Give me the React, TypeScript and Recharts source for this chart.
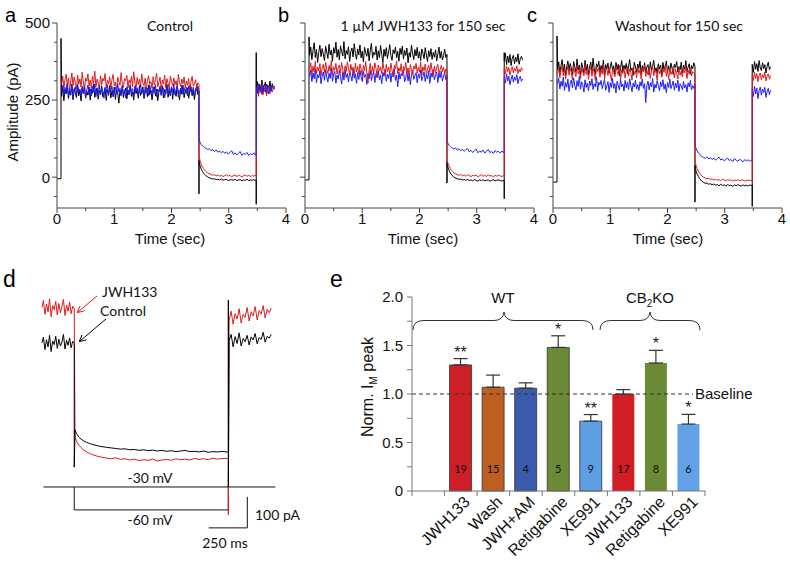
import React from "react";
import {
  LineChart,
  Line,
  XAxis,
  YAxis,
  BarChart,
  Bar,
  Cell,
  ErrorBar,
  LabelList,
  ReferenceLine,
} from "recharts";

const ARIAL = '"Liberation Sans", Arial, sans-serif';
const CALIBRI = 'Lato, "Open Sans", sans-serif';
const AXIS = "#444";
const BLACK = "#000000";
const RED = "#e0191c";
const BLUE = "#1c1cff";

// ---------- panels a-c : sample times (sec) ----------
const highTimes = [
  0.08, 0.1, 0.12, 0.14, 0.16, 0.18, 0.2, 0.22, 0.24, 0.26,
  0.28, 0.3, 0.32, 0.34, 0.36, 0.38, 0.4, 0.42, 0.44, 0.46,
  0.48, 0.5, 0.52, 0.54, 0.56, 0.58, 0.6, 0.62, 0.64, 0.66,
  0.68, 0.7, 0.72, 0.74, 0.76, 0.78, 0.8, 0.82, 0.84, 0.86,
  0.88, 0.9, 0.92, 0.94, 0.96, 0.98, 1, 1.02, 1.04, 1.06,
  1.08, 1.1, 1.12, 1.14, 1.16, 1.18, 1.2, 1.22, 1.24, 1.26,
  1.28, 1.3, 1.32, 1.34, 1.36, 1.38, 1.4, 1.42, 1.44, 1.46,
  1.48, 1.5, 1.52, 1.54, 1.56, 1.58, 1.6, 1.62, 1.64, 1.66,
  1.68, 1.7, 1.72, 1.74, 1.76, 1.78, 1.8, 1.82, 1.84, 1.86,
  1.88, 1.9, 1.92, 1.94, 1.96, 1.98, 2, 2.02, 2.04, 2.06,
  2.08, 2.1, 2.12, 2.14, 2.16, 2.18, 2.2, 2.22, 2.24, 2.26,
  2.28, 2.3, 2.32, 2.34, 2.36, 2.38, 2.4, 2.42, 2.44, 2.46,
  2.48,
];
const lowTimes = [
  2.48, 2.49, 2.5, 2.52, 2.54, 2.56, 2.58, 2.6, 2.63, 2.66,
  2.69, 2.72, 2.75, 2.78, 2.81, 2.84, 2.87, 2.9, 2.93, 2.96,
  2.99, 3.02, 3.05, 3.08, 3.11, 3.14, 3.17, 3.2, 3.23, 3.26,
  3.29, 3.32, 3.35, 3.38, 3.41, 3.44, 3.46, 3.48,
];
const endTimes = [3.48, 3.5, 3.52, 3.54, 3.56, 3.58, 3.6, 3.62, 3.64, 3.66, 3.68, 3.7, 3.72, 3.74, 3.76, 3.78, 3.8];
// hold end / step on / step off
const spikeTimes = [0.07, 2.48, 3.48];

// ---------- panel a : Control (pA) ----------
const aBlackHigh = [
  262, 291, 248, 284, 270, 299, 255, 280, 266, 302,
  251, 287, 273, 258, 295, 264, 282, 247, 289, 271,
  298, 256, 279, 266, 293, 250, 285, 272, 301, 259,
  277, 290, 253, 281, 268, 296, 261, 275, 288, 249,
  283, 270, 297, 257, 279, 264, 292, 252, 286, 274,
  240, 281, 266, 295, 258, 277, 289, 254, 283, 269,
  300, 262, 276, 250, 291, 271, 284, 256, 297, 265,
  280, 293, 255, 274, 287, 261, 299, 268, 282, 251,
  278, 294, 263, 285, 248, 276, 290, 267, 296, 257,
  284, 270, 301, 259, 281, 266, 293, 253, 287, 273,
  262, 295, 276, 250, 288, 269, 298, 258, 282, 271,
  290, 256, 279, 294, 264, 285, 252, 277, 299, 268,
  280,
];
const aRedHigh = [
  300, 328, 289, 317, 334, 295, 322, 281, 312, 338,
  297, 325, 306, 286, 331, 301, 319, 292, 340, 309,
  284, 322, 311, 335, 296, 315, 288, 327, 303, 344,
  293, 318, 307, 285, 329, 299, 321, 312, 336, 290,
  314, 302, 326, 287, 317, 333, 296, 308, 282, 324,
  311, 298, 339, 305, 291, 320, 313, 330, 289, 316,
  304, 327, 294, 342, 309, 286, 323, 300, 318, 292,
  335, 306, 297, 321, 283, 314, 329, 301, 310, 288,
  326, 299, 317, 337, 293, 308, 324, 285, 315, 302,
  331, 290, 319, 305, 284, 328, 311, 296, 322, 300,
  313, 287, 334, 307, 294, 318, 303, 325, 289, 312,
  298, 320, 283, 309, 327, 295, 304, 316, 291, 306,
  301,
];
const aBlueHigh = [
  280, 298, 266, 291, 275, 304, 262, 288, 271, 296,
  259, 284, 293, 268, 301, 277, 286, 263, 295, 273,
  290, 258, 283, 299, 270, 287, 264, 294, 276, 302,
  261, 285, 272, 297, 267, 289, 279, 256, 292, 274,
  300, 265, 286, 278, 295, 260, 282, 291, 269, 303,
  276, 288, 263, 297, 271, 284, 257, 293, 280, 267,
  299, 274, 287, 262, 296, 278, 290, 266, 285, 301,
  270, 283, 259, 294, 276, 289, 264, 298, 281, 268,
  292, 273, 300, 261, 286, 277, 295, 265, 284, 290,
  258, 279, 297, 271, 288, 263, 293, 276, 302, 267,
  285, 294, 260, 281, 272, 298, 269, 289, 278, 291,
  264, 296, 275, 283, 270, 292, 262, 287, 279, 294,
  282,
];
const aBlackLow = [
  55, 44, 36, 26, 19, 13, 9, 5, 1, -2,
  -4, -6, -5, -8, -7, -9, -6, -10, -8, -7,
  -11, -9, -8, -10, -7, -11, -9, -8, -12, -9,
  -10, -7, -11, -9, -10, -8, -11, -9,
];
const aRedLow = [
  75, 62, 52, 42, 34, 28, 23, 19, 14, 11,
  9, 6, 8, 4, 7, 3, 6, 2, 5, 8,
  3, 6, 1, 5, 7, 2, 6, 4, 1, 5,
  7, 3, 6, 2, 5, 3, 6, 4,
];
const aBlueLow = [
  125, 118, 112, 106, 102, 99, 96, 93, 90, 92,
  86, 89, 83, 88, 81, 85, 79, 84, 77, 82,
  75, 80, 86, 74, 79, 72, 78, 83, 71, 77,
  74, 80, 70, 76, 73, 79, 72, 76,
];
const aBlackEnd = [288, 310, 272, 301, 283, 315, 276, 296, 308, 270, 299, 287, 312, 279, 303, 290, 296];
const aRedEnd = [278, 296, 262, 289, 274, 301, 268, 285, 293, 264, 282, 297, 271, 288, 276, 292, 284];
const aBlueEnd = [290, 272, 303, 281, 295, 268, 299, 284, 276, 302, 287, 270, 294, 280, 298, 286, 291];
// hold level, onset peak, step-on spike, step-off dip, step-off peak
const aSpikes = [-5, 450, -54, -88, 404];

// ---------- panel b : 1 uM JWH133 ----------
const bBlackHigh = [
  395, 422, 381, 410, 436, 388, 415, 372, 404, 428,
  391, 417, 399, 378, 425, 406, 385, 431, 397, 412,
  376, 420, 402, 438, 389, 414, 380, 426, 408, 393,
  440, 384, 411, 398, 423, 375, 407, 419, 390, 433,
  401, 382, 416, 396, 429, 387, 409, 374, 421, 403,
  392, 418, 377, 412, 434, 386, 405, 397, 424, 380,
  410, 388, 427, 399, 373, 415, 392, 420, 385, 406,
  430, 394, 379, 413, 401, 422, 387, 408, 376, 418,
  398, 425, 383, 411, 395, 419, 371, 404, 389, 428,
  400, 381, 414, 393, 421, 386, 407, 378, 416, 402,
  384, 420, 396, 375, 410, 391, 417, 382, 405, 389,
  413, 377, 399, 422, 386, 408, 380, 394, 415, 388,
  398,
];
const bRedHigh = [
  348, 371, 332, 360, 341, 376, 335, 357, 345, 368,
  329, 354, 366, 339, 373, 350, 336, 362, 344, 378,
  331, 358, 347, 369, 334, 355, 364, 338, 372, 349,
  327, 361, 343, 374, 352, 333, 366, 346, 357, 330,
  370, 341, 359, 336, 367, 351, 328, 363, 345, 375,
  337, 305, 348, 369, 332, 360, 340, 371, 353, 326,
  364, 344, 358, 335, 373, 349, 331, 366, 342, 357,
  338, 370, 347, 329, 362, 351, 377, 336, 355, 343,
  368, 330, 359, 346, 372, 339, 354, 325, 365, 348,
  334, 361, 350, 369, 337, 356, 342, 374, 331, 358,
  345, 367, 333, 352, 363, 340, 371, 347, 328, 360,
  339, 355, 366, 334, 349, 362, 343, 357, 336, 351,
  346,
];
const bBlueHigh = [
  326, 347, 310, 338, 319, 351, 306, 333, 322, 345,
  303, 329, 341, 314, 349, 325, 308, 337, 320, 353,
  311, 334, 343, 305, 331, 318, 346, 327, 302, 340,
  315, 348, 323, 336, 309, 344, 329, 312, 350, 321,
  335, 304, 339, 317, 346, 326, 310, 343, 324, 333,
  301, 337, 319, 348, 313, 330, 342, 307, 336, 322,
  345, 316, 332, 303, 340, 327, 349, 311, 334, 320,
  344, 308, 338, 325, 351, 314, 331, 293, 341, 318,
  336, 328, 347, 309, 323, 343, 312, 337, 300, 332,
  346, 317, 329, 339, 306, 335, 321, 348, 313, 326,
  342, 310, 333, 319, 345, 304, 338, 324, 350, 315,
  330, 341, 307, 336, 322, 344, 312, 328, 339, 316,
  331,
];
const bBlackLow = [
  48, 38, 30, 21, 14, 8, 4, 0, -3, -5,
  -7, -6, -9, -8, -10, -7, -11, -9, -12, -8,
  -10, -13, -9, -11, -8, -12, -10, -9, -13, -11,
  -8, -12, -10, -9, -11, -13, -10, -11,
];
const bRedLow = [
  60, 50, 43, 35, 28, 22, 18, 14, 11, 8,
  6, 9, 4, 7, 3, 8, 5, 2, 6, 4,
  7, 1, 5, 8, 3, 6, 2, 7, 4, 5,
  1, 6, 3, 7, 4, 2, 5, 3,
];
const bBlueLow = [
  120, 114, 108, 103, 99, 96, 94, 91, 95, 88,
  92, 86, 90, 84, 89, 93, 82, 87, 80, 86,
  91, 79, 85, 81, 88, 78, 84, 90, 80, 83,
  77, 86, 81, 84, 78, 85, 80, 82,
];
const bBlackEnd = [378, 402, 365, 393, 371, 398, 362, 386, 395, 368, 389, 374, 400, 366, 384, 392, 380];
const bRedEnd = [352, 335, 360, 342, 356, 331, 348, 358, 338, 353, 344, 361, 336, 350, 341, 355, 346];
const bBlueEnd = [322, 305, 335, 312, 328, 300, 318, 331, 308, 325, 314, 333, 303, 320, 327, 311, 319];
const bSpikes = [-9, 455, -19, -70, 404];

// ---------- panel c : washout ----------
const cBlackHigh = [
  350, 374, 336, 362, 381, 341, 367, 330, 358, 377,
  345, 369, 353, 333, 375, 359, 340, 383, 348, 364,
  329, 371, 355, 338, 379, 346, 366, 332, 360, 373,
  343, 386, 351, 334, 368, 357, 376, 339, 362, 347,
  380, 331, 365, 352, 370, 337, 358, 374, 344, 361,
  333, 372, 349, 366, 328, 356, 378, 342, 363, 350,
  369, 335, 360, 381, 346, 354, 330, 373, 358, 340,
  367, 352, 376, 334, 362, 345, 371, 338, 357, 365,
  331, 374, 348, 360, 379, 343, 355, 336, 368, 351,
  364, 329, 372, 347, 358, 377, 339, 361, 344, 370,
  353, 333, 366, 356, 375, 341, 359, 348, 373, 337,
  363, 350, 378, 342, 357, 368, 334, 362, 352, 371,
  360,
];
const cRedHigh = [
  336, 356, 322, 347, 362, 328, 351, 318, 343, 360,
  331, 354, 339, 315, 358, 344, 326, 363, 335, 350,
  320, 357, 341, 329, 365, 333, 349, 317, 346, 359,
  327, 352, 338, 314, 361, 342, 355, 324, 348, 334,
  366, 319, 345, 353, 330, 357, 337, 313, 350, 340,
  325, 359, 343, 332, 362, 316, 348, 336, 354, 321,
  346, 360, 328, 351, 339, 315, 356, 334, 345, 323,
  358, 337, 349, 318, 353, 341, 364, 326, 347, 332,
  355, 320, 344, 361, 329, 350, 338, 314, 357, 335,
  346, 324, 352, 340, 363, 327, 348, 317, 354, 333,
  343, 359, 322, 350, 336, 318, 356, 331, 345, 325,
  352, 338, 361, 320, 347, 334, 355, 328, 342, 339,
  336,
];
const cBlueHigh = [
  302, 320, 286, 311, 295, 325, 281, 307, 292, 318,
  278, 304, 315, 289, 322, 298, 283, 313, 294, 327,
  285, 309, 300, 276, 316, 291, 305, 280, 312, 297,
  320, 284, 303, 293, 324, 279, 308, 299, 314, 287,
  301, 318, 282, 296, 310, 275, 306, 291, 321, 288,
  304, 273, 311, 297, 283, 317, 293, 302, 279, 314,
  290, 308, 284, 319, 296, 277, 305, 292, 315, 286,
  300, 281, 309, 295, 318, 288, 303, 242, 298, 311,
  283, 306, 293, 320, 276, 301, 289, 313, 297, 280,
  309, 294, 316, 285, 302, 274, 307, 291, 318, 287,
  299, 312, 282, 305, 290, 315, 278, 303, 296, 284,
  310, 289, 300, 276, 306, 293, 314, 283, 297, 288,
  301,
];
const cBlackLow = [
  40, 28, 18, 9, 2, -4, -9, -13, -17, -20,
  -19, -23, -21, -25, -22, -26, -24, -28, -23, -27,
  -25, -29, -24, -27, -26, -30, -25, -28, -24, -27,
  -29, -25, -28, -26, -29, -25, -27, -26,
];
const cRedLow = [
  58, 45, 36, 27, 19, 13, 8, 4, 0, -3,
  -5, -4, -7, -6, -9, -7, -10, -8, -11, -7,
  -9, -12, -8, -10, -9, -13, -9, -11, -8, -12,
  -10, -9, -13, -10, -11, -9, -12, -10,
];
const cBlueLow = [
  110, 100, 92, 85, 79, 74, 70, 67, 64, 61,
  66, 59, 63, 57, 62, 55, 60, 65, 56, 59,
  53, 58, 62, 54, 57, 51, 60, 55, 52, 58,
  54, 50, 57, 53, 56, 51, 55, 54,
];
const cBlackEnd = [362, 340, 375, 350, 368, 343, 378, 355, 346, 371, 352, 365, 338, 360, 373, 349, 358];
const cRedEnd = [332, 314, 340, 320, 336, 310, 329, 338, 316, 333, 322, 341, 312, 327, 335, 318, 330];
const cBlueEnd = [284, 262, 295, 270, 289, 255, 281, 292, 266, 286, 274, 291, 259, 279, 288, 268, 282];
const cSpikes = [-16, 458, -81, -95, 366];

const timeTicks = [0, 0.5, 1, 1.5, 2, 2.5, 3, 3.5, 4];
const ampTicks = [-62.5, 0, 62.5, 125, 187.5, 250, 312.5, 375, 437.5, 500];

// ---------- panel d : example traces (sec, pA) ----------
const dLeftTimes = [
  -0.21, -0.2, -0.19, -0.18, -0.17, -0.16, -0.15, -0.14, -0.13, -0.12, -0.11,
  -0.1, -0.09, -0.08, -0.07, -0.06, -0.05, -0.04, -0.03, -0.02, -0.01, 0,
];
const dStepTimes = [
  0.005, 0.015, 0.03, 0.045, 0.06, 0.08, 0.1, 0.12, 0.15, 0.18,
  0.21, 0.24, 0.27, 0.3, 0.33, 0.36, 0.39, 0.42, 0.45, 0.48,
  0.51, 0.54, 0.57, 0.6, 0.63, 0.66, 0.69, 0.72, 0.75, 0.78,
  0.81, 0.84, 0.87, 0.9, 0.93, 0.96, 1,
];
const dRightTimes = [
  1.005, 1.018, 1.031, 1.044, 1.057, 1.07, 1.083, 1.096, 1.109, 1.122, 1.135,
  1.148, 1.161, 1.174, 1.187, 1.2, 1.213, 1.226, 1.239, 1.252, 1.265, 1.278,
];
const dRedLeft = [492, 515, 470, 503, 478, 520, 462, 498, 485, 512, 468, 505, 475, 495, 518, 466, 500, 480, 510, 472, 496, 488];
const dBlackLeft = [378, 396, 356, 388, 365, 402, 350, 384, 372, 399, 360, 390, 368, 380, 405, 358, 386, 370, 394, 362, 383, 376];
const dRedStep = [
  74, 60, 48, 40, 33, 26, 21, 17, 12, 9,
  6, 4, 7, 2, 4, 0, 3, -2, 1, -1,
  3, -3, 0, 2, -1, 4, 1, 3, 0, 5,
  2, 4, 1, 6, 3, 5, 5,
];
const dBlackStep = [
  97, 85, 74, 67, 62, 57, 53, 50, 46, 43,
  41, 39, 37, 35, 36, 33, 34, 31, 33, 30,
  32, 29, 31, 28, 30, 27, 29, 31, 27, 28,
  26, 29, 25, 27, 26, 28, 25,
];
const dRedRight = [452, 480, 438, 472, 455, 488, 442, 470, 460, 492, 448, 478, 465, 495, 452, 482, 470, 498, 458, 486, 475, 490];
const dBlackRight = [385, 405, 365, 398, 376, 410, 368, 392, 382, 402, 371, 397, 387, 408, 375, 395, 389, 412, 380, 399, 393, 405];
// black: step-on dip, step-off peak, step-off dip ; red: step-off dip
const dBlackSpikes = [-23, 516, -87];
const dRedSpikes = [-177];
// voltage protocol drawing (-30 mV holding, -60 mV step) and scale bar
const protocolTimes = [-0.2, 0, 1, 1.305];
const protocolLevels = [-87, -161];
const scaleBarTimes = [0.873, 1.123];
const scaleBarLevels = [-219, -119];

// ---------- panel e : normalized I_M peak ----------
const conditions = ["", "JWH133", "Wash", "JWH+AM", "Retigabine", "XE991", "JWH133", "Retigabine", "XE991"];
const normPeak = [0, 1.3, 1.07, 1.06, 1.48, 0.72, 1.0, 1.32, 0.69];
const sem = [0, 0.065, 0.125, 0.055, 0.12, 0.068, 0.045, 0.13, 0.1];
const cellCounts = ["", "19", "15", "4", "5", "9", "17", "8", "6"];
const significance = ["", "**", "", "", "*", "**", "", "*", "*"];
const barColors = ["#a89a3c", "#cf1f26", "#bd5f21", "#3b5aab", "#6b8a35", "#5e9ee4", "#d11d24", "#6b8a35", "#62a1e8"];
const genotype = ["WT", "WT", "WT", "WT", "WT", "WT", "KO", "KO", "KO"];
const normTicks = [0, 0.25, 0.5, 0.75, 1, 1.25, 1.5, 1.75, 2];

const E_PLOT_LEFT = 72;
const E_BAND = 293 / conditions.length;

type Pt = { t: number; v: number };

function zip(times: number[], vals: number[]): Pt[] {
  return vals.map((v, i) => ({ t: times[i], v }));
}

function buildTrace(high: number[], low: number[], end: number[], spikes?: number[]): Pt[] {
  const pts: Pt[] = [];
  if (spikes) {
    pts.push({ t: 0, v: spikes[0] }, { t: spikeTimes[0], v: spikes[0] }, { t: spikeTimes[0], v: spikes[1] });
  }
  pts.push(...zip(highTimes, high));
  if (spikes) pts.push({ t: spikeTimes[1], v: spikes[2] });
  pts.push(...zip(lowTimes, low));
  if (spikes) pts.push({ t: spikeTimes[2], v: spikes[3] }, { t: spikeTimes[2], v: spikes[4] });
  pts.push(...zip(endTimes, end));
  return pts;
}

const TimeTick = (p: any) => {
  const { x, y, payload } = p;
  const major = Number.isInteger(payload.value);
  return (
    <g>
      <line x1={x} x2={x} y1={y} y2={y + (major ? 5 : 3)} stroke={AXIS} />
      {major && (
        <text x={x} y={y + 16} textAnchor="middle" fontSize={15} fontFamily={ARIAL} fill="#111">
          {payload.value}
        </text>
      )}
    </g>
  );
};

const makeAmpTick = (showLabel: boolean) => (p: any) => {
  const { x, y, payload } = p;
  const major = payload.value % 250 === 0;
  return (
    <g>
      <line x1={x - (major ? 5 : 3)} x2={x} y1={y} y2={y} stroke={AXIS} />
      {showLabel && major && (
        <text x={x - 7} y={y} dy="0.36em" textAnchor="end" fontSize={15} fontFamily={ARIAL} fill="#111">
          {payload.value}
        </text>
      )}
    </g>
  );
};

type Trace = { color: string; points: Pt[] };

function TracePanel({ left, traces, showYLabels }: { left: number; traces: Trace[]; showYLabels: boolean }) {
  return (
    <div style={{ position: "absolute", left, top: 0 }}>
      <LineChart width={290} height={250} margin={{ top: 23, right: 4, left: 0, bottom: 2 }}>
        <XAxis
          dataKey="t"
          type="number"
          domain={[0, 4]}
          ticks={timeTicks}
          interval={0}
          tickSize={0}
          tickMargin={0}
          tickLine={false}
          tick={TimeTick}
          height={40}
          axisLine={{ stroke: AXIS }}
        />
        <YAxis
          type="number"
          domain={[-100, 500]}
          ticks={ampTicks}
          interval={0}
          tickSize={0}
          tickMargin={0}
          tickLine={false}
          tick={makeAmpTick(showYLabels)}
          width={57}
          axisLine={{ stroke: AXIS }}
        />
        {traces.map((tr, i) => (
          <Line
            key={i}
            data={tr.points}
            dataKey="v"
            stroke={tr.color}
            strokeWidth={1}
            dot={false}
            isAnimationActive={false}
          />
        ))}
      </LineChart>
    </div>
  );
}

const NormTick = (p: any) => {
  const { x, y, payload } = p;
  const v = payload.value as number;
  const major = v % 0.5 === 0;
  return (
    <g>
      <line x1={x - 5} x2={x} y1={y} y2={y} stroke="#777" />
      {major && (
        <text x={x - 9} y={y} dy="0.36em" textAnchor="end" fontSize={15} fontFamily={ARIAL} fill="#111">
          {v === 0 ? "0" : v.toFixed(1)}
        </text>
      )}
    </g>
  );
};

const CondTick = (p: any) => {
  const { x, y, payload, index } = p;
  return (
    <g>
      <line x1={x - E_BAND / 2} x2={x - E_BAND / 2} y1={y} y2={y + 5} stroke="#777" />
      {index === conditions.length - 1 && (
        <line x1={x + E_BAND / 2} x2={x + E_BAND / 2} y1={y} y2={y + 5} stroke="#777" />
      )}
      {payload.value && (
        <text
          transform={`translate(${x + 10},${y + 12}) rotate(-45)`}
          textAnchor="end"
          fontSize={16}
          fontFamily={ARIAL}
          fill="#111"
        >
          {payload.value}
        </text>
      )}
    </g>
  );
};

const renderCount = (p: any) => {
  const { x, y, width, height, value } = p;
  if (!value) return null;
  return (
    <text x={x + width / 2} y={y + height - 18} textAnchor="middle" fontSize={11} fontFamily={CALIBRI} fill="#111">
      {value}
    </text>
  );
};

// which category a bar belongs to, from its centre position
const barIndex = (x: number, width: number) => Math.floor((x + width / 2 - E_PLOT_LEFT) / E_BAND);

const renderStar = (p: any) => {
  const { x, y, width, height, value } = p;
  if (!value) return null;
  const i = barIndex(Number(x), Number(width));
  const top = Number(y) - sem[i] * (Number(height) / normPeak[i]);
  return (
    <text x={Number(x) + Number(width) / 2} y={top - 1} textAnchor="middle" fontSize={16} fontFamily={ARIAL} fill="#222">
      {value}
    </text>
  );
};

export default function App() {
  const panelA: Trace[] = [
    { color: BLACK, points: buildTrace(aBlackHigh, aBlackLow, aBlackEnd, aSpikes) },
    { color: RED, points: buildTrace(aRedHigh, aRedLow, aRedEnd) },
    { color: BLUE, points: buildTrace(aBlueHigh, aBlueLow, aBlueEnd) },
  ];
  const panelB: Trace[] = [
    { color: BLACK, points: buildTrace(bBlackHigh, bBlackLow, bBlackEnd, bSpikes) },
    { color: BLUE, points: buildTrace(bBlueHigh, bBlueLow, bBlueEnd) },
    { color: RED, points: buildTrace(bRedHigh, bRedLow, bRedEnd) },
  ];
  const panelC: Trace[] = [
    { color: BLACK, points: buildTrace(cBlackHigh, cBlackLow, cBlackEnd, cSpikes) },
    { color: BLUE, points: buildTrace(cBlueHigh, cBlueLow, cBlueEnd) },
    { color: RED, points: buildTrace(cRedHigh, cRedLow, cRedEnd) },
  ];

  const dRed: Pt[] = [
    ...zip(dLeftTimes, dRedLeft),
    ...zip(dStepTimes, dRedStep),
    { t: 1, v: dRedSpikes[0] },
    ...zip(dRightTimes, dRedRight),
  ];
  const dBlack: Pt[] = [
    ...zip(dLeftTimes, dBlackLeft),
    { t: 0, v: dBlackSpikes[0] },
    ...zip(dStepTimes, dBlackStep),
    { t: 1, v: dBlackSpikes[1] },
    { t: 1, v: dBlackSpikes[2] },
    ...zip(dRightTimes, dBlackRight),
  ];
  const holdingLine: Pt[] = [
    { t: protocolTimes[0], v: protocolLevels[0] },
    { t: protocolTimes[3], v: protocolLevels[0] },
  ];
  const stepLine: Pt[] = [
    { t: protocolTimes[1], v: protocolLevels[0] },
    { t: protocolTimes[1], v: protocolLevels[1] },
    { t: protocolTimes[2], v: protocolLevels[1] },
    { t: protocolTimes[2], v: protocolLevels[0] },
  ];
  const scaleBar: Pt[] = [
    { t: scaleBarTimes[0], v: scaleBarLevels[0] },
    { t: scaleBarTimes[1], v: scaleBarLevels[0] },
    { t: scaleBarTimes[1], v: scaleBarLevels[1] },
  ];

  const barData = conditions.map((name, i) => ({
    name,
    value: normPeak[i],
    err: [0, sem[i]],
    n: cellCounts[i],
    star: significance[i],
  }));

  return (
    <div
      style={{
        position: "absolute",
        left: 0,
        top: 0,
        width: 790,
        height: 568,
        background: "#fff",
        overflow: "hidden",
      }}
    >
      <TracePanel left={0} traces={panelA} showYLabels={true} />
      <TracePanel left={248} traces={panelB} showYLabels={false} />
      <TracePanel left={496} traces={panelC} showYLabels={false} />

      {/* panel d */}
      <div style={{ position: "absolute", left: 28, top: 274 }}>
        <LineChart width={262} height={279} margin={{ top: 0, right: 0, left: 0, bottom: 0 }}>
          <XAxis dataKey="t" type="number" domain={[-0.3, 1.4]} hide allowDataOverflow />
          <YAxis type="number" domain={[-300, 600]} hide allowDataOverflow />
          <Line data={holdingLine} dataKey="v" stroke="#111" strokeWidth={1} dot={false} isAnimationActive={false} />
          <Line data={stepLine} dataKey="v" stroke="#111" strokeWidth={1} dot={false} isAnimationActive={false} />
          <Line data={scaleBar} dataKey="v" stroke="#111" strokeWidth={1} dot={false} isAnimationActive={false} />
          <Line data={dRed} dataKey="v" stroke={RED} strokeWidth={1} dot={false} isAnimationActive={false} />
          <Line data={dBlack} dataKey="v" stroke={BLACK} strokeWidth={1} dot={false} isAnimationActive={false} />
        </LineChart>
      </div>

      {/* panel e */}
      <div style={{ position: "absolute", left: 340, top: 280 }}>
        <BarChart width={420} height={288} data={barData} margin={{ top: 17, right: 55, left: 0, bottom: 1 }}>
          <XAxis
            dataKey="name"
            interval={0}
            tickSize={0}
            tickMargin={0}
            tickLine={false}
            tick={CondTick}
            height={76}
            axisLine={{ stroke: "#777" }}
          />
          <YAxis
            type="number"
            domain={[0, 2]}
            ticks={normTicks}
            interval={0}
            tickSize={0}
            tickMargin={0}
            tickLine={false}
            tick={NormTick}
            width={E_PLOT_LEFT}
            axisLine={{ stroke: "#777" }}
          />
          <ReferenceLine
            y={1}
            shape={(p: any) => (
              <line x1={p.x1} y1={p.y1} x2={p.x2 - 12} y2={p.y2} stroke="#333" strokeWidth={1.2} strokeDasharray="4 3" />
            )}
            label={{ value: "Baseline", position: "right", offset: -10, fill: "#111", fontSize: 15, fontFamily: ARIAL }}
          />
          <Bar dataKey="value" barSize={22} isAnimationActive={false}>
            {barData.map((_, i) => (
              <Cell
                key={i}
                fill={barColors[i]}
                stroke={genotype[i] === "WT" ? "#333" : "none"}
                strokeWidth={0.8}
              />
            ))}
            <ErrorBar dataKey="err" direction="y" width={7} stroke="#333" strokeWidth={1.2} />
            <LabelList dataKey="n" content={renderCount} />
            <LabelList dataKey="star" content={renderStar} />
          </Bar>
        </BarChart>
      </div>

      {/* labels and annotations */}
      <svg width={790} height={568} style={{ position: "absolute", left: 0, top: 0, pointerEvents: "none" }}>
        <defs>
          <marker id="arrRed" markerWidth="7" markerHeight="7" refX="6" refY="3.5" orient="auto" markerUnits="userSpaceOnUse">
            <path d="M0,0 L7,3.5 L0,7" fill="none" stroke={RED} strokeWidth={1} />
          </marker>
          <marker id="arrBlack" markerWidth="7" markerHeight="7" refX="6" refY="3.5" orient="auto" markerUnits="userSpaceOnUse">
            <path d="M0,0 L7,3.5 L0,7" fill="none" stroke="#000" strokeWidth={1} />
          </marker>
        </defs>

        <g fontFamily={ARIAL} fill="#000">
          <text x={5} y={22} fontSize={20}>a</text>
          <text x={278} y={22} fontSize={20}>b</text>
          <text x={527} y={22} fontSize={20}>c</text>
          <text x={3} y={287} fontSize={23}>d</text>
          <text x={330} y={287} fontSize={23}>e</text>
        </g>

        <g fontFamily={CALIBRI} fontSize={14} fill="#111" textAnchor="middle">
          <text x={170} y={31}>Control</text>
          <text x={423} y={31}>1 µM JWH133 for 150 sec</text>
          <text x={679} y={31}>Washout for 150 sec</text>
        </g>

        <g fontFamily={ARIAL} fontSize={15} fill="#111" textAnchor="middle">
          <text x={170} y={244}>Time (sec)</text>
          <text x={423} y={244}>Time (sec)</text>
          <text x={668} y={244}>Time (sec)</text>
          <text transform="translate(17.5,112) rotate(-90)">Amplitude (pA)</text>
        </g>

        {/* panel d annotations */}
        <g fontFamily={CALIBRI} fontSize={14} fill="#111">
          <text x={102} y={297}>JWH133</text>
          <text x={100} y={316}>Control</text>
          <text x={150} y={483} textAnchor="middle">-30 mV</text>
          <text x={150} y={525} textAnchor="middle">-60 mV</text>
          <text x={255} y={520}>100 pA</text>
          <text x={225} y={548} textAnchor="middle">250 ms</text>
        </g>
        <line x1={97} y1={296} x2={78} y2={312} stroke={RED} strokeWidth={1} markerEnd="url(#arrRed)" />
        <line x1={106} y1={319} x2={80} y2={341} stroke="#000" strokeWidth={1} markerEnd="url(#arrBlack)" />

        {/* panel e annotations */}
        <path
          d="M413,330 Q413,320.5 424,320.5 L494,320.5 Q503,320.5 504,312 Q505,320.5 514,320.5 L582,320.5 Q593,320.5 593,330"
          fill="none"
          stroke="#333"
          strokeWidth={1}
        />
        <path
          d="M600,330 Q600,320.5 611,320.5 L640,320.5 Q649,320.5 650,312 Q651,320.5 660,320.5 L689,320.5 Q700,320.5 700,330"
          fill="none"
          stroke="#333"
          strokeWidth={1}
        />
        <g fontFamily={ARIAL} fontSize={15} fill="#111" textAnchor="middle">
          <text x={503} y={303}>WT</text>
          <text x={650} y={303}>
            CB<tspan fontSize={10} dy={4}>2</tspan>
            <tspan dy={-4}>KO</tspan>
          </text>
          <text transform="translate(373,387) rotate(-90)" fontSize={16}>
            Norm. I<tspan fontSize={10} dy={4}>M</tspan>
            <tspan dy={-4}> peak</tspan>
          </text>
        </g>
      </svg>
    </div>
  );
}
